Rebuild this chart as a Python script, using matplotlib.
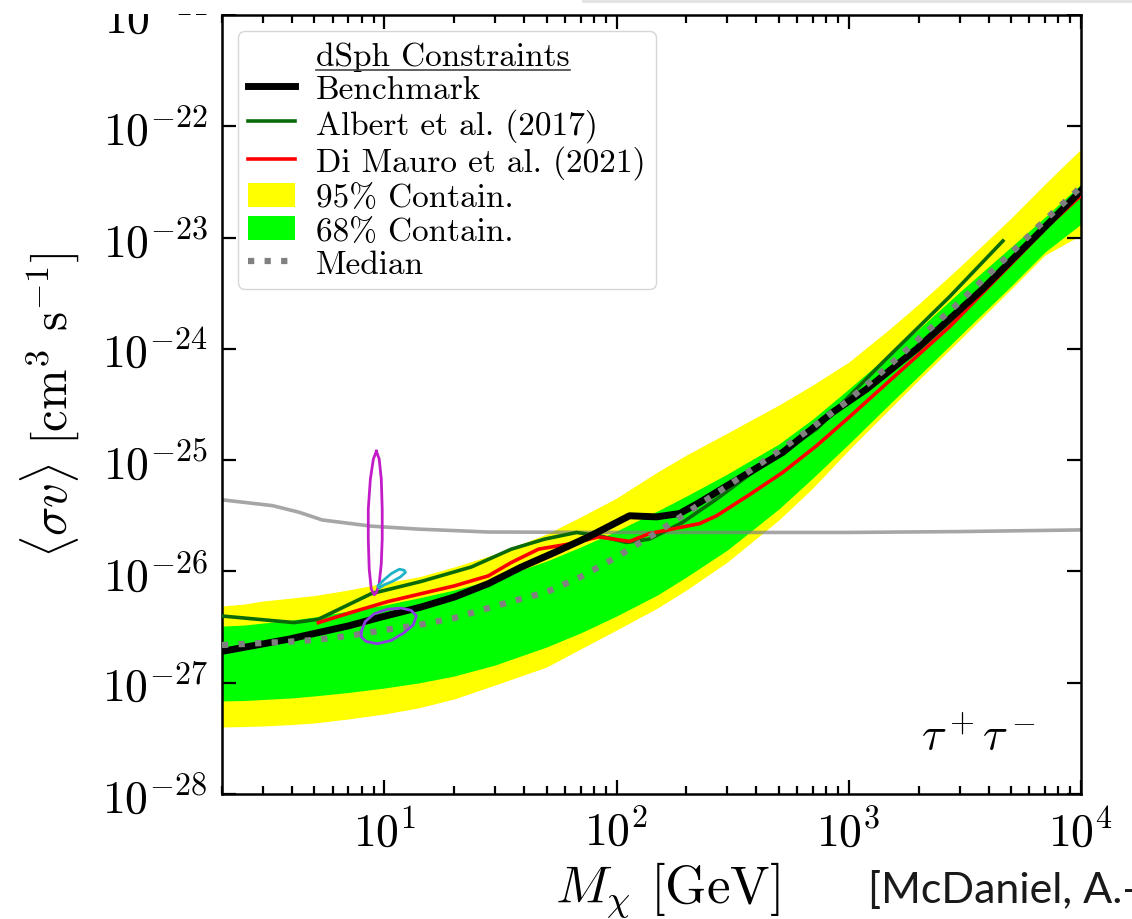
import numpy as np
import matplotlib
matplotlib.use("Agg")
import matplotlib.pyplot as plt
from matplotlib.lines import Line2D
from matplotlib.patches import Patch, Rectangle
from matplotlib.ticker import NullLocator

plt.rcParams['font.family'] = ['cmr10', 'DejaVu Serif']
plt.rcParams['mathtext.fontset'] = 'cm'
plt.rcParams['axes.formatter.use_mathtext'] = True

# containment bands, log10 <sigma v> on a common mass grid (GeV)
band_mass = [2, 2.5, 3, 4, 5, 7, 10, 14, 20, 30, 50, 70, 100, 150, 200, 300, 500, 700,
             1000, 1500, 2000, 3000, 5000, 7000, 10000]
band95_hi = [-26.311, -26.293, -26.266, -26.239, -26.217, -26.167, -26.104, -26.050, -25.960, -25.844,
             -25.664, -25.511, -25.341, -25.107, -24.954, -24.757, -24.505, -24.325, -24.119, -23.822,
             -23.598, -23.265, -22.825, -22.519, -22.205]
band68_hi = [-26.491, -26.482, -26.464, -26.437, -26.410, -26.356, -26.302, -26.239, -26.167, -26.068,
             -25.907, -25.781, -25.637, -25.457, -25.323, -25.125, -24.855, -24.631, -24.361, -24.047,
             -23.822, -23.490, -23.085, -22.816, -22.519]
band68_lo = [-27.164, -27.160, -27.151, -27.137, -27.119, -27.088, -27.048, -27.003, -26.940, -26.841,
             -26.679, -26.553, -26.401, -26.212, -26.050, -25.808, -25.439, -25.161, -24.855, -24.496,
             -24.244, -23.885, -23.436, -23.130, -22.879]
band95_lo = [-27.398, -27.394, -27.389, -27.376, -27.362, -27.326, -27.281, -27.227, -27.146, -27.021,
             -26.859, -26.697, -26.527, -26.329, -26.167, -25.916, -25.538, -25.251, -24.909, -24.541,
             -24.280, -23.921, -23.463, -23.157, -22.978]
median = [-26.661, -26.652, -26.643, -26.630, -26.616, -26.580, -26.527, -26.482, -26.419, -26.311,
          -26.185, -26.050, -25.871, -25.646, -25.475, -25.233, -24.918, -24.703, -24.460, -24.146,
          -23.912, -23.580, -23.139, -22.843, -22.546]

# benchmark limit (log10 mass, log10 sigma v)
bench_logm = [0.297, 0.586, 0.845, 0.987, 1.159, 1.302, 1.448, 1.591, 1.733, 1.879, 2.056, 2.172,
              2.272, 2.358, 2.500, 2.716, 2.931, 3.078, 3.293, 3.578, 3.866, 4.0]
bench_logsv = [-26.72, -26.61, -26.49, -26.41, -26.32, -26.23, -26.11, -25.96, -25.83, -25.69, -25.50, -25.51,
               -25.48, -25.38, -25.20, -24.93, -24.57, -24.36, -24.00, -23.46, -22.86, -22.58]

# Albert et al. (2017)
alb_logm = [0.297, 0.612, 0.716, 0.944, 1.159, 1.375, 1.547, 1.690, 1.828, 1.927, 2.043, 2.142,
            2.284, 2.431, 2.573, 2.862, 3.147, 3.435, 3.664]
alb_logsv = [-26.40, -26.46, -26.43, -26.20, -26.09, -25.96, -25.80, -25.71, -25.65, -25.68, -25.74, -25.71,
             -25.56, -25.35, -25.13, -24.72, -24.12, -23.53, -23.03]

# Di Mauro et al. (2021)
dm_logm = [0.716, 0.871, 1.017, 1.159, 1.302, 1.448, 1.547, 1.664, 1.806, 1.922, 2.056, 2.142,
           2.358, 2.431, 2.573, 2.716, 2.862, 3.004, 3.435, 3.866, 3.996]
dm_logsv = [-26.46, -26.36, -26.27, -26.20, -26.13, -26.04, -25.92, -25.80, -25.75, -25.69, -25.73, -25.66,
            -25.57, -25.50, -25.31, -25.11, -24.87, -24.61, -23.80, -22.88, -22.63]

# thermal relic cross section
relic_mass = [2, 3.3, 4.3, 5.4, 8.8, 14, 28, 100, 1000, 3000, 10000]
relic_sv = [4.4e-26, 3.9e-26, 3.4e-26, 2.9e-26, 2.55e-26, 2.4e-26, 2.26e-26, 2.24e-26, 2.24e-26, 2.28e-26, 2.36e-26]

# GCE fit contours (log10 mass, log10 sigma v)
mag_logm = [0.966, 0.978, 0.987, 0.991, 0.991, 0.987, 0.978, 0.966, 0.957, 0.944, 0.935, 0.931, 0.931, 0.940, 0.953, 0.966]
mag_logsv = [-24.92, -24.99, -25.17, -25.44, -25.71, -25.93, -26.11, -26.19, -26.21, -26.16, -25.98, -25.71, -25.44,
             -25.17, -24.99, -24.92]
cyan_logm = [0.974, 0.996, 1.030, 1.065, 1.086, 1.091, 1.069, 1.035, 1.000, 0.978, 0.974]
cyan_logsv = [-26.13, -26.08, -26.02, -25.98, -25.99, -26.01, -26.05, -26.09, -26.12, -26.15, -26.13]
purp_logm = [0.901, 0.918, 0.957, 1.013, 1.073, 1.116, 1.138, 1.125, 1.086, 1.030, 0.970, 0.922, 0.901, 0.901]
purp_logsv = [-26.54, -26.45, -26.38, -26.34, -26.33, -26.35, -26.40, -26.48, -26.55, -26.62, -26.65, -26.63, -26.59,
              -26.54]

fig = plt.figure(figsize=(11.32, 9.2), dpi=100)
ax = fig.add_axes([0.1961, 0.1359, 0.7588, 0.8467])

bm = np.array(band_mass)
ax.fill_between(bm, 10**np.array(band95_lo), 10**np.array(band95_hi), color='#ffff00', lw=0, zorder=1)
ax.fill_between(bm, 10**np.array(band68_lo), 10**np.array(band68_hi), color='#00ff00', lw=0, zorder=1.5)
ax.plot(relic_mass, relic_sv, color='gray', alpha=0.7, lw=2.6, zorder=2)
ax.plot(10**np.array(alb_logm), 10**np.array(alb_logsv), color='#0a6a0a', lw=2.6, zorder=3)
ax.plot(10**np.array(dm_logm), 10**np.array(dm_logsv), color='red', lw=2.6, zorder=4)
ax.plot(10**np.array(bench_logm), 10**np.array(bench_logsv), color='black', lw=5, zorder=5)
ax.plot(bm, 10**np.array(median), color='gray', lw=4.5, ls=':', zorder=6)

ax.plot(10**np.array(mag_logm), 10**np.array(mag_logsv), color='#c21cc8', lw=2, zorder=7)
ax.plot(10**np.array(cyan_logm), 10**np.array(cyan_logsv), color='#1fb3c8', lw=2, zorder=7)
ax.plot(10**np.array(purp_logm), 10**np.array(purp_logsv), color='#8c3ee0', lw=2, zorder=7)

ax.set_xscale('log')
ax.set_yscale('log')
ax.set_xlim(2, 1e4)
ax.set_ylim(1e-28, 1e-21)
ax.yaxis.set_minor_locator(NullLocator())

for s in ax.spines.values():
    s.set_linewidth(1.8)
ax.tick_params(which='both', direction='in', top=True, right=True, width=1.6)
ax.tick_params(which='major', length=10, labelsize=33, pad=10)
ax.tick_params(which='minor', length=5.5)

ax.set_xlabel(r'$M_\chi$ [GeV]', fontsize=38, labelpad=4)
ax.xaxis.label.set_x(0.518)
ax.set_ylabel(r'$\langle\sigma v\rangle$ [cm$^3$ s$^{-1}$]', fontsize=35, labelpad=14)

ax.text(0.88, 0.073, r'$\tau^+\tau^-$', transform=ax.transAxes, fontsize=33, ha='center', va='center')

handles = [Line2D([], [], color='none'),
           Line2D([], [], color='black', lw=5),
           Line2D([], [], color='#0a6a0a', lw=2.6),
           Line2D([], [], color='red', lw=2.6),
           Patch(facecolor='#ffff00', edgecolor='none'),
           Patch(facecolor='#00ff00', edgecolor='none'),
           Line2D([], [], color='gray', lw=4.5, ls=':')]
labels = ['dSph Constraints', 'Benchmark', 'Albert et al. (2017)', 'Di Mauro et al. (2021)',
          '95% Contain.', '68% Contain.', 'Median']
leg = ax.legend(handles, labels, loc='upper left', bbox_to_anchor=(0.0186, 0.979), borderaxespad=0,
                fontsize=24, labelspacing=0.11, handlelength=1.41, handleheight=0.72, handletextpad=0.63,
                borderpad=0.3, fancybox=True, edgecolor='0.8', framealpha=0.8)
leg.set_zorder(10)

# underline the legend heading
fig.canvas.draw()
bb = leg.get_texts()[0].get_window_extent().transformed(fig.transFigure.inverted())
fig.add_artist(Line2D([bb.x0, bb.x1], [bb.y0 + 0.001, bb.y0 + 0.001], transform=fig.transFigure,
                      color='#444444', lw=1.2, zorder=11))

# top of the slide crop
fig.add_artist(Rectangle((0, 1 - 15 / 920), 1, 15 / 920, transform=fig.transFigure,
                         facecolor='white', edgecolor='none', zorder=20))
fig.add_artist(Line2D([0.515, 1.0], [0.998, 0.998], transform=fig.transFigure, color='#e2e2e2', lw=2, zorder=21))
fig.text(0.767, 0.018, '[McDaniel, A.-', fontsize=31, family='Lato', color='#1a1a1a', ha='left', va='baseline')

fig.savefig('out.png', dpi=100)
